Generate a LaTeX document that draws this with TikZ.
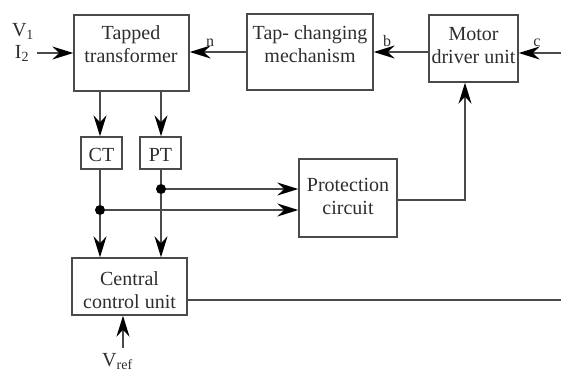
\documentclass[tikz,border=0pt]{standalone}
\usepackage{fontspec}
\setmainfont{Liberation Serif}
\usetikzlibrary{arrows.meta,calc}
\definecolor{ink}{HTML}{2E2E2E}
\definecolor{wire}{HTML}{4A4A4A}
\tikzset{
  x=1pt, y=-1pt,
  box/.style={draw=wire, line width=1.4pt, rectangle, inner sep=0pt},
  txt/.style={text=ink, align=center, font=\fontsize{20}{23}\selectfont, inner sep=0pt},
  lbl/.style={text=ink, font=\fontsize{16}{18}\selectfont, inner sep=0pt, anchor=base},
  wireline/.style={draw=wire, line width=1.4pt},
  arr/.style={wireline, -{Stealth[length=21pt, width=13pt, inset=7pt, fill=black, color=black]}},
  junction/.style={circle, fill=black, inner sep=0pt, minimum size=10pt},
}
\begin{document}
\begin{tikzpicture}
\useasboundingbox (0,0) rectangle (561,373);

% blocks
\node[box, minimum width=115pt, minimum height=76pt] (tt)   at (131.5,53)  {};
\node[box, minimum width=126pt, minimum height=76pt] (tcm)  at (310,52)    {};
\node[box, minimum width=89pt,  minimum height=67pt] (mdu)  at (473.5,48.5){};
\node[box, minimum width=41pt,  minimum height=32pt] (ct)   at (101.5,153) {};
\node[box, minimum width=41pt,  minimum height=32pt] (pt)   at (160.5,153) {};
\node[box, minimum width=98pt,  minimum height=78pt] (prot) at (348,198)   {};
\node[box, minimum width=115pt, minimum height=57pt] (ccu)  at (129.5,286.5){};

% block texts
\node[txt] (tttx)   at (131,44)   {Tapped\\transformer};
\node[txt] (tcmtx)  at (310,44)   {Tap- changing\\mechanism};
\node[txt] (mdutx)  at (473.5,46) {Motor\\driver unit};
\node[txt] (cttx)   at (101.5,155){CT};
\node[txt] (pttx)   at (160.5,155){PT};
\node[txt] (prottx) at (348,196.5){Protection\\circuit};
\node[txt] (ccutx)  at (129.5,290){Central\\control unit};

% external signals
\node[txt, anchor=base] (v1) at (23,36) {V\textsubscript{1}};
\node[txt, anchor=base] (i2) at (22,58) {I\textsubscript{2}};
\node[txt, anchor=base west] (vref) at (102,366) {V\textsubscript{ref}};
\node[lbl] (ln) at (210,46) {n};
\node[lbl] (lb) at (387,46) {b};
\node[lbl] (lc) at (537,46) {c};

% free ends and bends
\coordinate (inV) at (37,53);
\coordinate (inC) at (561,53);
\coordinate (outC) at (561,300);
\coordinate (inR) at (123,348);
\coordinate (bend) at (465,200);
\coordinate (ctx) at (100,0);
\coordinate (ptx) at (161,0);

% junctions
\node[junction] (jpt) at (161,189) {};
\node[junction] (jct) at (100,210) {};

% top row
\draw[arr] (inV) -- (inV -| tt.west);
\draw[arr] (tcm.west) -- (tcm.west -| tt.east);
\draw[arr] (mdu.west |- tcm.east) -- (tcm.east);
\draw[arr] (inC) -- (inC -| mdu.east);

% transformer to CT / PT
\draw[arr] (ctx |- tt.south) -- (ctx |- ct.north);
\draw[arr] (ptx |- tt.south) -- (ptx |- pt.north);

% measurement lines
\draw[wireline] (ctx |- ct.south) -- (jct);
\draw[arr] (jct) -- (ctx |- ccu.north);
\draw[wireline] (ptx |- pt.south) -- (jpt);
\draw[arr] (jpt) -- (ptx |- ccu.north);
\draw[arr] (jpt) -- (jpt -| prot.west);
\draw[arr] (jct) -- (jct -| prot.west);

% protection to motor driver
\draw[arr] (prot.east |- bend) -- (bend) -- (bend |- mdu.south);

% central control unit
\draw[wireline] (ccu.east |- outC) -- (outC);
\draw[arr] (inR) -- (inR |- ccu.south);
\end{tikzpicture}
\end{document}
